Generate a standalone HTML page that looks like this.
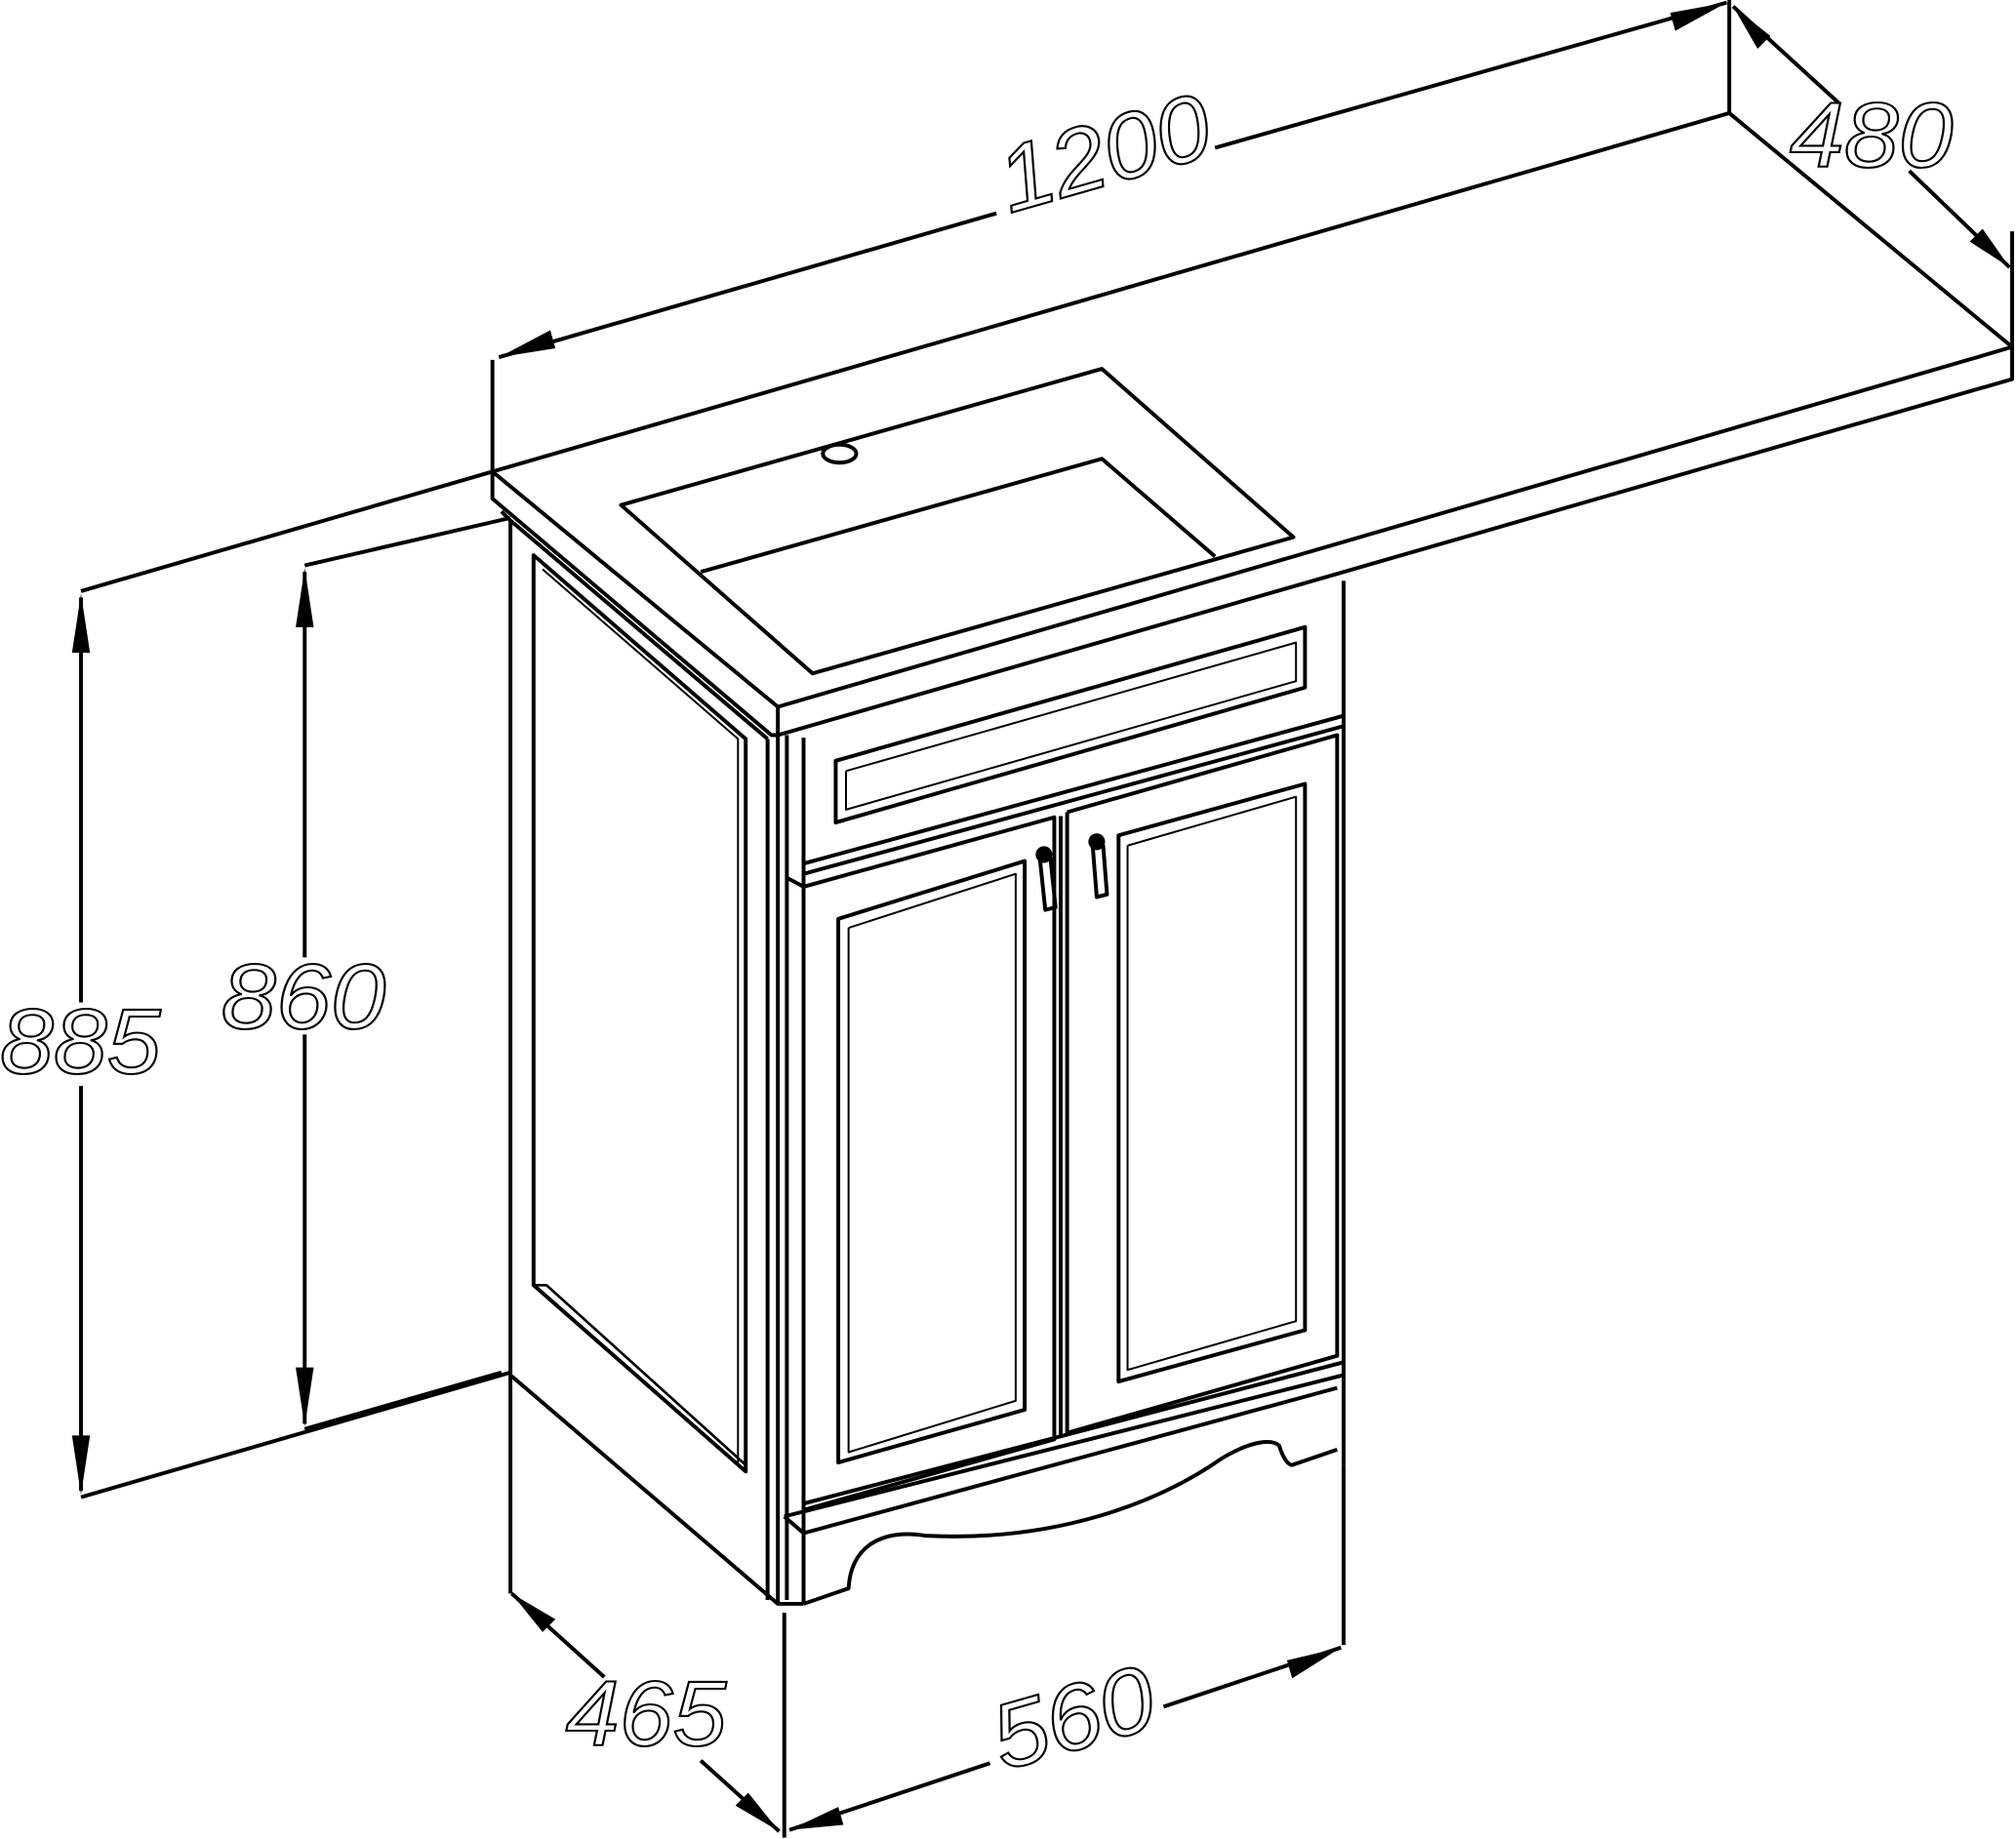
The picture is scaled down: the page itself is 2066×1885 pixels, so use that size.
<!DOCTYPE html>
<html><head><meta charset="utf-8"><style>
html,body{margin:0;padding:0;background:#fff;}
svg{display:block;}
text{font-family:"Liberation Sans",sans-serif;font-style:italic;fill:none;stroke:#000;stroke-width:1.6;}
</style></head><body>
<svg width="2066" height="1885" viewBox="0 0 1568 1431" preserveAspectRatio="none" xmlns="http://www.w3.org/2000/svg">
<g fill="none" stroke="#000" stroke-width="3" stroke-linejoin="round">
<polygon points="383,367 1345,88 1565,270 605,550" fill="#fff"/>
<polyline points="383,367 383,388 600,572 605,572 605,550"/>
<polyline points="605,572 1565,295 1565,270"/>
<polygon points="483,393 857,287 1006,418 632,524"/>
<polyline points="545,445 857,357 945,433"/>
<ellipse cx="653" cy="353" rx="13" ry="7"/>
<line x1="383" y1="367" x2="383" y2="280"/>
<line x1="1345" y1="88" x2="1345" y2="0"/>
<line x1="388" y1="278" x2="775" y2="166"/>
<line x1="945" y1="115" x2="1343" y2="2"/>
<line x1="1565" y1="270" x2="1565" y2="180"/>
<line x1="1348" y1="5" x2="1430" y2="80"/>
<line x1="1485" y1="133" x2="1563" y2="208"/>
<polyline points="390,398 397,405 597,575"/>
<line x1="397" y1="405" x2="397" y2="1070"/>
<line x1="597" y1="575" x2="597" y2="1245"/>
<line x1="605" y1="572" x2="605" y2="1248"/>
<polygon points="415,432 580,575 580,1145 415,1000"/>
<polyline points="422,443 574,575 574,1138" stroke-width="1.5"/>
<polyline points="415,1000 425,1000 580,1140" stroke-width="2"/>
<polyline points="397,1070 605,1248 625,1248"/>
<line x1="612" y1="572" x2="612" y2="1245"/>
<line x1="625" y1="574" x2="625" y2="1248"/>
<line x1="1045" y1="452" x2="1045" y2="1140"/>
<polygon points="650,592 1015,488 1015,535 650,640"/>
<polyline points="658,600 1008,500 1008,530 658,630 658,600" stroke-width="1.5"/>
<line x1="625" y1="672" x2="1045" y2="557"/>
<line x1="625" y1="680" x2="1045" y2="565"/>
<polyline points="612,683 625,690 820,636 820,1120 625,1175"/>
<polygon points="652,715 797,670 797,1097 652,1138"/>
<polyline points="660,722 790,680 790,1090 660,1130 660,722" stroke-width="1.5"/>
<polyline points="830,632 1040,572 1040,1055 830,1115 830,632"/>
<polygon points="870,650 1015,610 1015,1035 870,1075"/>
<polyline points="877,658 1008,620 1008,1028 877,1066 877,658" stroke-width="1.5"/>
<line x1="825" y1="635" x2="825" y2="1118"/>
<circle cx="812" cy="665" r="5" fill="#000"/>
<polygon points="809,670 817,668 821,706 813,708"/>
<circle cx="853" cy="655" r="5" fill="#000"/>
<polygon points="850,660 858,658 861,696 853,698"/>
<line x1="625" y1="1170" x2="1045" y2="1060"/>
<line x1="610" y1="1180" x2="1045" y2="1070"/>
<polyline points="610,1180 625,1193 1040,1080"/>
<line x1="625" y1="1193" x2="625" y2="1248"/>
<path d="M625,1248 L660,1236 C662,1200 690,1190 720,1195 C820,1200 900,1170 950,1135 C975,1120 990,1120 995,1125 C998,1135 1002,1140 1005,1140 L1040,1128"/>
<line x1="1045" y1="1140" x2="1045" y2="1280"/>
<line x1="63" y1="460" x2="383" y2="367"/>
<line x1="63" y1="1165" x2="397" y2="1068"/>
<line x1="63" y1="465" x2="63" y2="780"/>
<line x1="63" y1="845" x2="63" y2="1160"/>
<line x1="237" y1="440" x2="397" y2="403"/>
<line x1="237" y1="1112" x2="390" y2="1068"/>
<line x1="237" y1="445" x2="237" y2="745"/>
<line x1="237" y1="805" x2="237" y2="1108"/>
<line x1="397" y1="1070" x2="397" y2="1240"/>
<line x1="610" y1="1255" x2="610" y2="1430"/>
<line x1="398" y1="1240" x2="470" y2="1305"/>
<line x1="545" y1="1370" x2="606" y2="1425"/>
<line x1="614" y1="1424" x2="770" y2="1372"/>
<line x1="905" y1="1328" x2="1043" y2="1282"/>
</g>
<g fill="#000" stroke="none">
<polygon points="388,278 428,257 432,271"/>
<polygon points="1343,2 1299,10 1303,24"/>
<polygon points="1348,5 1367,38 1377,28"/>
<polygon points="1563,208 1532,188 1542,178"/>
<polygon points="63,462 56,508 70,508"/>
<polygon points="63,1163 56,1117 70,1117"/>
<polygon points="237,442 230,488 244,488"/>
<polygon points="237,1110 230,1064 244,1064"/>
<polygon points="398,1240 432,1260 422,1270"/>
<polygon points="606,1425 572,1405 582,1395"/>
<polygon points="614,1424 652,1406 656,1420"/>
<polygon points="1043,1282 1001,1292 1005,1306"/>
</g>
<text x="0" y="835" font-size="72" textLength="125" lengthAdjust="spacingAndGlyphs">885</text>
<text x="172" y="800" font-size="72" textLength="128" lengthAdjust="spacingAndGlyphs">860</text>
<text x="440" y="1358" font-size="72" textLength="125" lengthAdjust="spacingAndGlyphs">465</text>
<text x="1392" y="130" font-size="72" textLength="127" lengthAdjust="spacingAndGlyphs">480</text>
<text x="0" y="0" font-size="72" textLength="168" lengthAdjust="spacingAndGlyphs" transform="translate(785,166) rotate(-16)">1200</text>
<text x="0" y="0" font-size="72" textLength="128" lengthAdjust="spacingAndGlyphs" transform="translate(780,1378) rotate(-16)">560</text>
</svg>
</body></html>
